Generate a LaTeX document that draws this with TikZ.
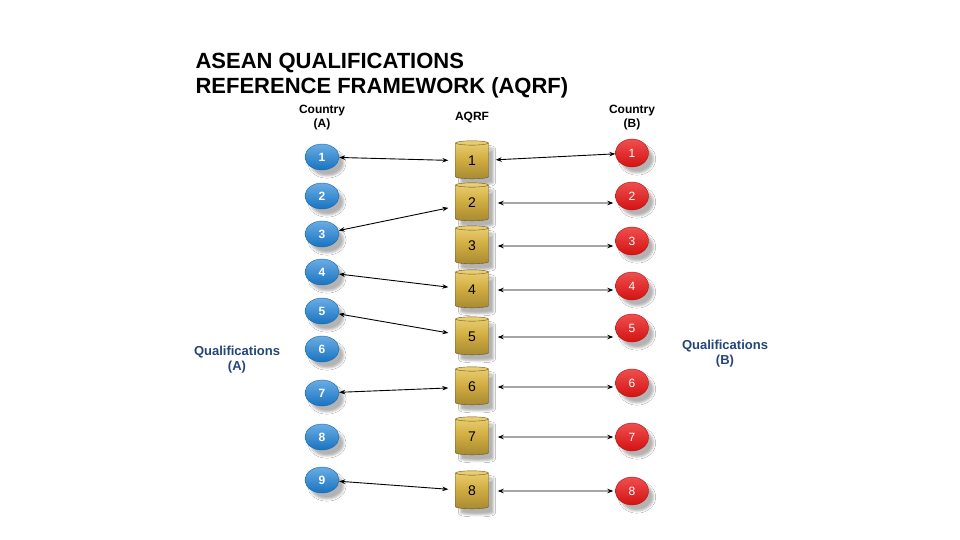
\documentclass[tikz,border=0pt]{standalone}
\usepackage{fontspec}
\setmainfont{Liberation Sans}
\usetikzlibrary{shapes.geometric,arrows.meta,shadows.blur}
\definecolor{qblue}{RGB}{26,128,214}
\definecolor{qred}{RGB}{234,20,20}
\definecolor{qgold}{RGB}{208,172,64}
\definecolor{qgoldtop}{RGB}{236,208,116}
\definecolor{qtext}{RGB}{36,70,120}
\def\bluenode{\node[ellipse,draw=qblue!80!black,top color=qblue!65!white,bottom color=qblue!90!black,minimum width=34pt,minimum height=26pt,inner sep=0pt,text=white,font=\bfseries\fontsize{12}{12}\selectfont,blur shadow={shadow xshift=5pt,shadow yshift=-6pt,shadow opacity=30}]}
\def\rednode{\node[ellipse,draw=qred!80!black,top color=qred!75!white,bottom color=qred!90!black,minimum width=33pt,minimum height=28pt,inner sep=0pt,text=white,font=\fontsize{12}{12}\selectfont,blur shadow={shadow xshift=5pt,shadow yshift=-6pt,shadow opacity=30}]}
\def\drumnode{\node[cylinder,shape border rotate=90,aspect=0.55,minimum width=33pt,minimum height=38pt,inner sep=0pt,draw=qgold!50!black,top color=qgoldtop,bottom color=qgold!80!black,middle color=qgold,font=\fontsize{14}{14}\selectfont,blur shadow={shadow xshift=5pt,shadow yshift=-6pt,shadow opacity=30}]}
\def\linkdraw{\draw[{Stealth[length=6pt,width=4.5pt]}-{Stealth[length=6pt,width=4.5pt]},line width=0.9pt]}

\begin{document}
\begin{tikzpicture}[x=1pt,y=1pt]
\useasboundingbox[fill=white] (0,0) rectangle (960,-540);
% headings
\node[anchor=west,align=left,font=\bfseries\fontsize{22}{25}\selectfont] (title) at (192,-76) {ASEAN QUALIFICATIONS\\REFERENCE FRAMEWORK (AQRF)};
\node[align=center,font=\bfseries\fontsize{12}{14}\selectfont] (ctya) at (322,-118) {Country\\(A)};
\node[font=\bfseries\fontsize{12}{14}\selectfont] (aqrf) at (472,-117) {AQRF};
\node[align=center,font=\bfseries\fontsize{12}{14}\selectfont] (ctyb) at (632,-118) {Country\\(B)};
\node[align=center,text=qtext,font=\bfseries\fontsize{13}{15}\selectfont] (quala) at (237,-360) {Qualifications\\(A)};
\node[align=center,text=qtext,font=\bfseries\fontsize{13}{15}\selectfont] (qualb) at (725,-354) {Qualifications\\(B)};
% country A
\bluenode (a1) at (322,-157) {1};
\bluenode (a2) at (322,-196) {2};
\bluenode (a3) at (322,-234) {3};
\bluenode (a4) at (322,-272) {4};
\bluenode (a5) at (322,-311) {5};
\bluenode (a6) at (322,-349) {6};
\bluenode (a7) at (322,-393) {7};
\bluenode (a8) at (322,-437) {8};
\bluenode (a9) at (322,-480) {9};
% AQRF levels
\drumnode (c1) at (472,-161) {1};
\drumnode (c2) at (472,-203) {2};
\drumnode (c3) at (472,-246) {3};
\drumnode (c4) at (472,-290) {4};
\drumnode (c5) at (472,-337) {5};
\drumnode (c6) at (472,-387) {6};
\drumnode (c7) at (472,-437) {7};
\drumnode (c8) at (472,-491) {8};
% country B
\rednode (b1) at (632,-153) {1};
\rednode (b2) at (632,-196) {2};
\rednode (b3) at (632,-241) {3};
\rednode (b4) at (632,-286) {4};
\rednode (b5) at (632,-328) {5};
\rednode (b6) at (632,-383) {6};
\rednode (b7) at (632,-437) {7};
\rednode (b8) at (632,-491) {8};
% links
\linkdraw[shorten >=7pt] (a1) -- (c1);
\linkdraw[shorten >=7pt] (a3) -- (c2);
\linkdraw[shorten >=7pt] (a4) -- (c4);
\linkdraw[shorten >=7pt] (a5) -- (c5);
\linkdraw[shorten >=7pt] (a7) -- (c6);
\linkdraw[shorten >=7pt] (a9) -- (c8);
\linkdraw[shorten <=7pt] (c1) -- (b1);
\linkdraw[shorten <=9pt,shorten >=2pt] (c2) -- (c2 -| b2.west);
\linkdraw[shorten <=9pt,shorten >=2pt] (c3) -- (c3 -| b3.west);
\linkdraw[shorten <=9pt,shorten >=2pt] (c4) -- (c4 -| b4.west);
\linkdraw[shorten <=9pt,shorten >=2pt] (c5) -- (c5 -| b5.west);
\linkdraw[shorten <=9pt,shorten >=2pt] (c6) -- (c6 -| b6.west);
\linkdraw[shorten <=9pt,shorten >=2pt] (c7) -- (c7 -| b7.west);
\linkdraw[shorten <=9pt,shorten >=2pt] (c8) -- (c8 -| b8.west);
\end{tikzpicture}
\end{document}
